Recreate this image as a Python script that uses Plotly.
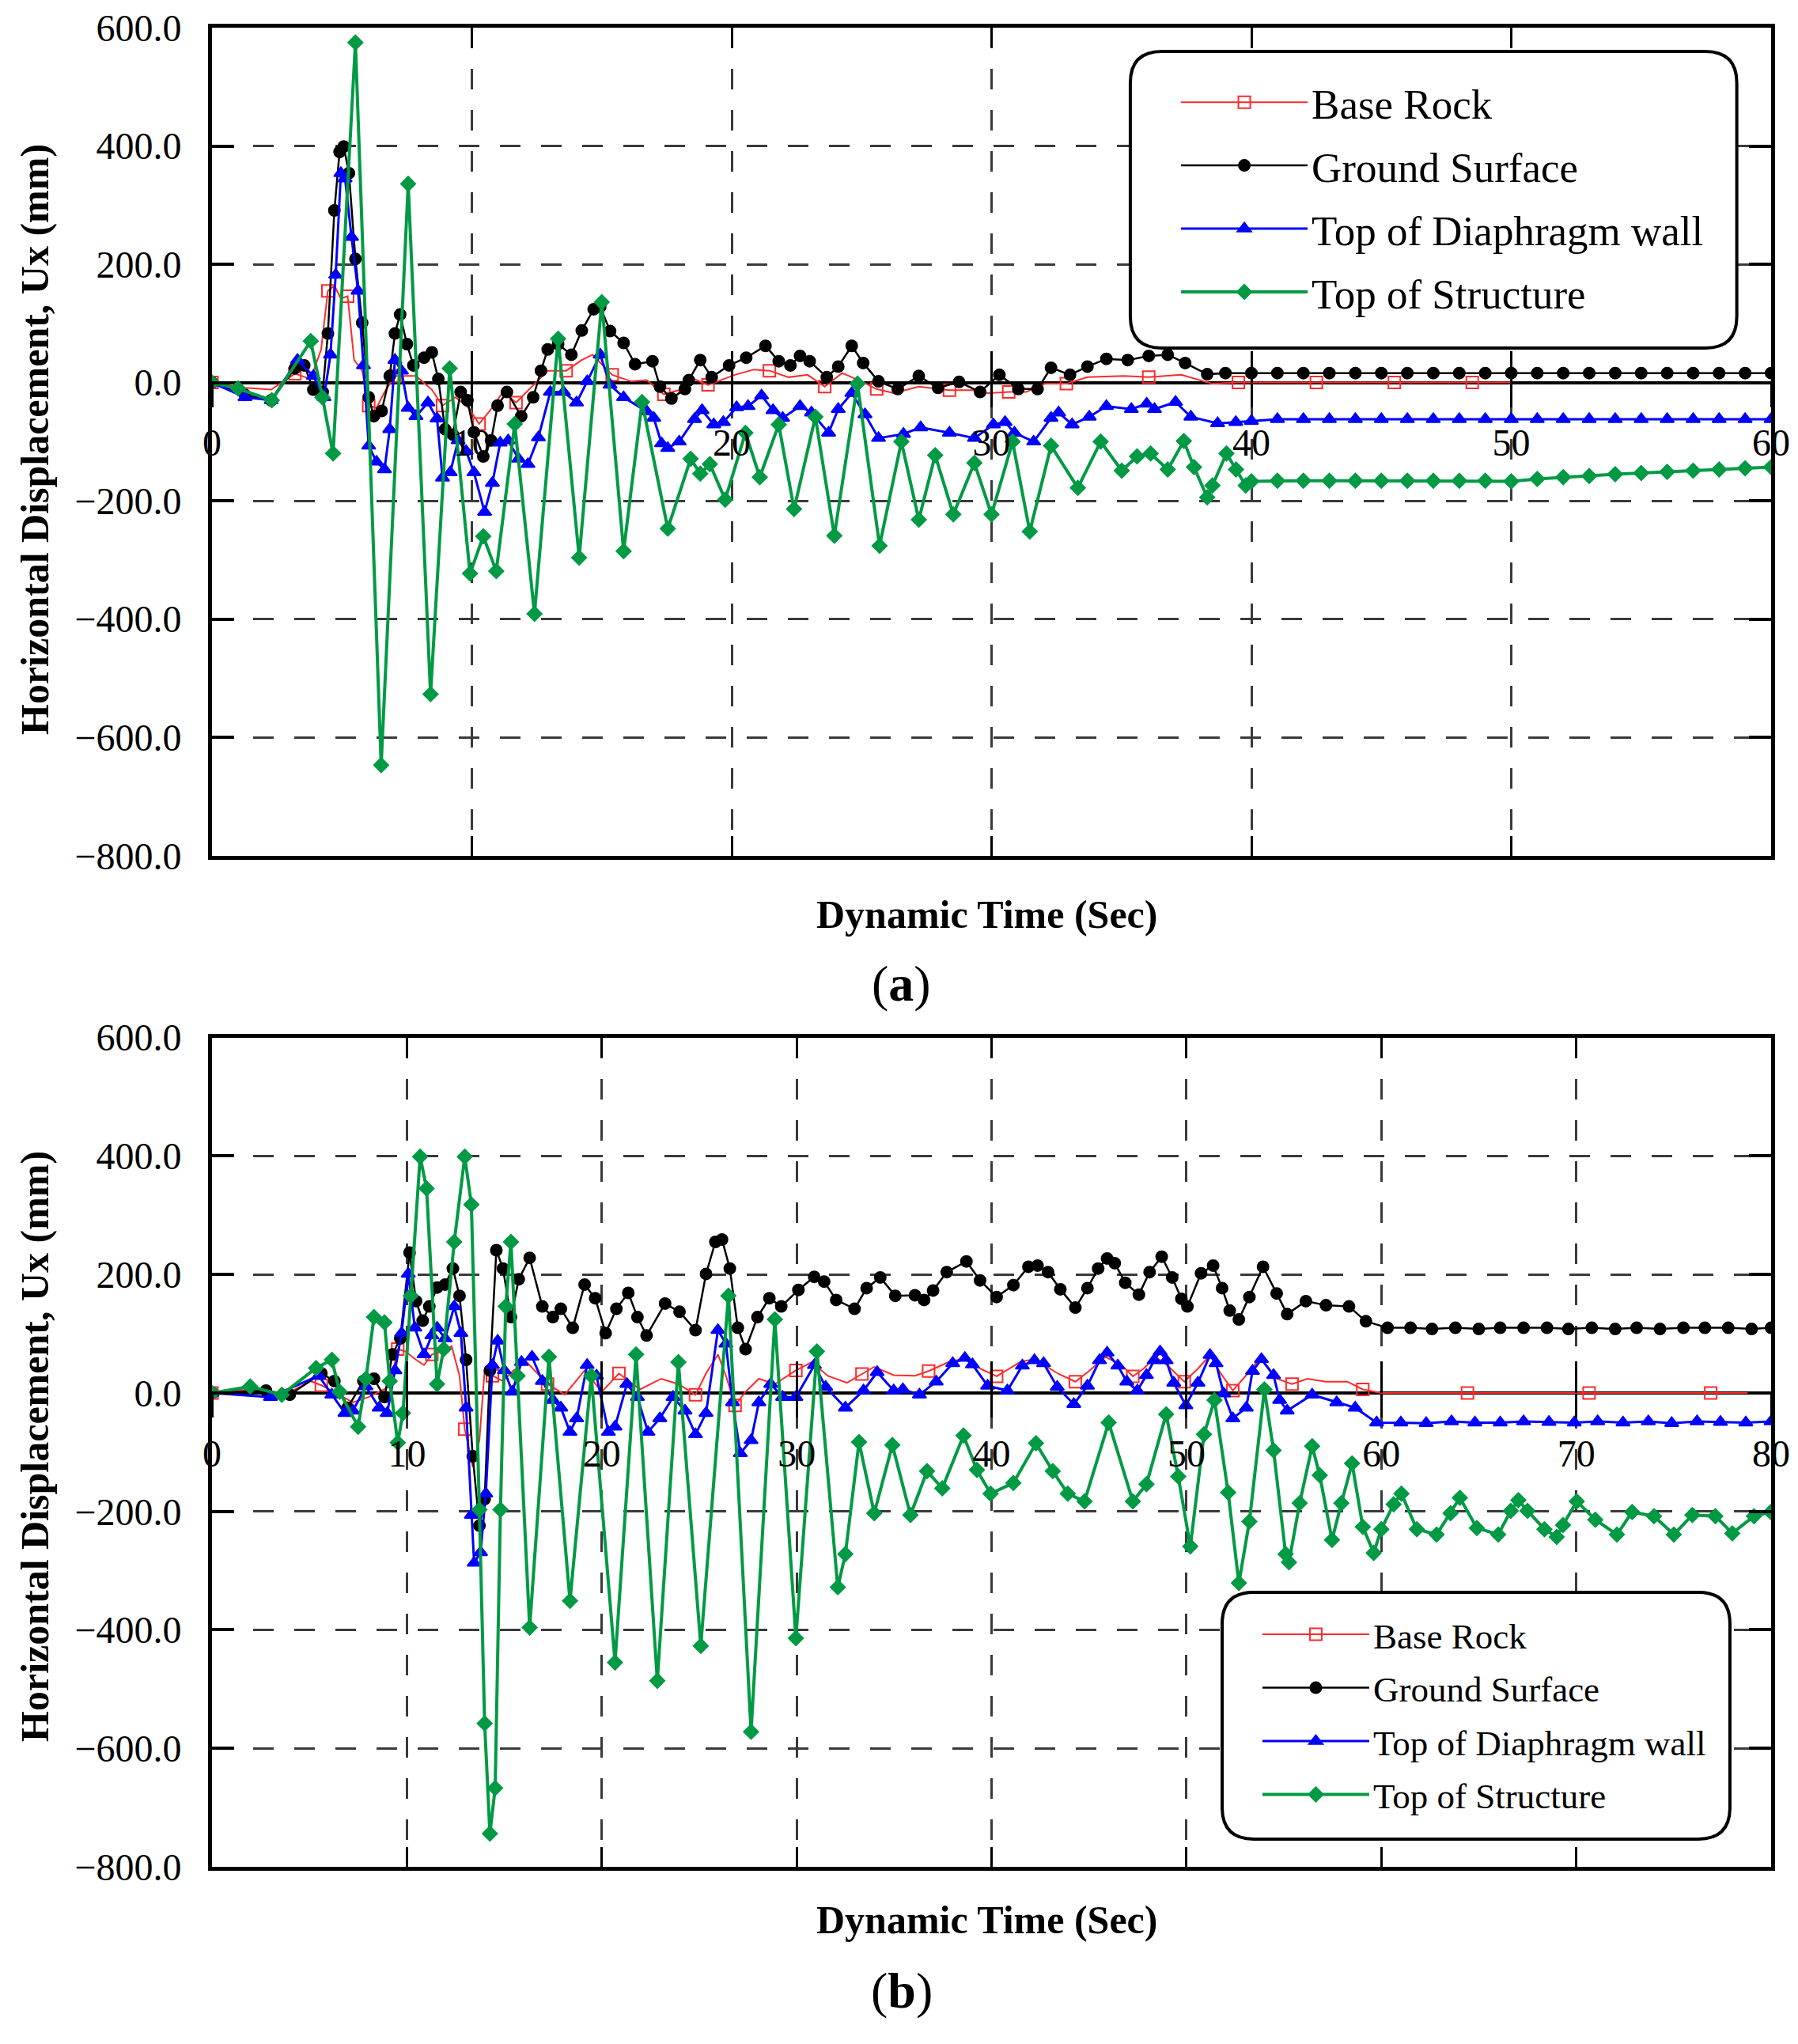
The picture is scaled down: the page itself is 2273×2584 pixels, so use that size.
import plotly.graph_objects as go

# ---------------- (a) 60 s record ----------------
a_rock_t = [0, 1.27, 2.28, 3.19, 3.8, 4.2, 4.46, 4.71, 4.96, 5.22, 5.47, 5.78, 6.03, 6.33, 6.64,
            7.04, 7.85, 8.46, 8.87, 9.37, 9.88, 10.28, 10.69, 11.2, 11.7, 12.41, 12.92, 13.63,
            14.23, 14.64, 15.4, 16.13, 16.73, 17.39, 18.13, 18.5, 19.09, 20.12, 20.86, 21.45,
            22.18, 22.92, 23.58, 24.25, 24.99, 25.58, 26.24, 27.2, 28.38, 29.26, 29.85, 30.66,
            31.33, 32.06, 32.88, 33.69, 35.09, 36.05, 37.3, 38.5, 39.5, 40.5, 41.5, 42.5, 43.5,
            44.5, 45.5, 46.5, 47.5, 48.5, 49.5, 50]
a_rock_v = [0, -9, -12, 15, 6, 56, 155, 164, 142, 146, 38, 20, -39, -43, -16,
            11, 11, -12, -39, -25, -43, -70, -48, -16, -34, -3, 20, 20,
            38, 47, 13, 2, 4, -20, -11, 7, -4, 13, 22, 20,
            9, 13, -7, 16, 2, -11, -18, -7, -13, -13, -18, -16,
            -16, -2, -2, 9, 11, 9, 13, -2, 0, 0, 0, 0, 0,
            0, 0, 0, 0, 0, 0, 0]

a_ground_t = [0, 1.27, 2.28, 3.19, 3.55, 3.9, 4.26, 4.46, 4.71, 4.91, 5.07, 5.27, 5.52, 5.78, 6.03,
              6.23, 6.53, 6.84, 7.04, 7.24, 7.5, 7.75, 8.16, 8.46, 8.71, 8.97, 9.27, 9.57, 9.83,
              10.08, 10.44, 10.74, 10.99, 11.35, 11.9, 12.36, 12.66, 12.92, 13.32, 13.83, 14.23,
              14.69, 14.94, 15.32, 15.84, 16.28, 16.95, 17.24, 17.68, 18.2, 18.35, 18.79, 19.23,
              19.9, 20.56, 21.3, 21.81, 22.26, 22.63, 23.0, 23.66, 24.1, 24.62, 25.06, 25.65,
              26.39, 27.2, 27.94, 28.75, 29.56, 30.3, 31.03, 31.77, 32.29, 33.02, 33.69, 34.42,
              35.24, 36.05, 36.78, 37.45, 38.3, 39, 40, 41, 42, 43, 44, 45, 46, 47, 48, 49, 50,
              51, 52, 53, 54, 55, 56, 57, 58, 59, 60]
a_ground_v = [0, -21, -30, 24, 29, -12, -16, 83, 291, 390, 399, 354, 209, 101, -25,
              -57, -48, 11, 83, 115, 65, 29, 42, 51, 6, -79, -88, -16, -30,
              -84, -125, -98, -39, -16, -57, -25, 20, 56, 65, 47, 88,
              124, 128, 87, 67, 31, 36, -7, -27, -11, 4, 38, 9,
              29, 42, 62, 36, 29, 45, 36, 9, 27, 62, 33, 2,
              -11, 11, -9, 1, -16, 13, -11, -11, 25, 13, 27, 40,
              38, 45, 47, 33, 14, 16, 16, 16, 16, 16, 16, 16, 16, 16, 16, 16, 16,
              16, 16, 16, 16, 16, 16, 16, 16, 16, 16]

a_wall_t = [0, 1.27, 2.28, 3.29, 3.9, 4.31, 4.56, 4.76, 4.96, 5.12, 5.37, 5.62, 5.83, 6.03, 6.33,
            6.64, 6.84, 7.04, 7.29, 7.55, 7.85, 8.31, 8.66, 8.87, 9.17, 9.47, 9.78, 10.08, 10.49,
            10.79, 11.09, 11.4, 11.8, 12.16, 12.56, 13.02, 13.53, 14.03, 14.44, 14.94, 15.32,
            15.84, 16.73, 17.0, 17.3, 17.54, 17.98, 18.57, 18.86, 19.31, 19.68, 20.19, 20.63,
            21.15, 21.59, 21.96, 22.63, 23.07, 23.73, 24.1, 24.62, 25.13, 25.65, 26.61, 27.27,
            28.38, 29.34, 30.07, 30.52, 30.88, 31.62, 32.29, 32.58, 33.1, 33.76, 34.42, 35.38,
            35.97, 36.27, 37.08, 37.67, 38.7, 39.4, 40, 41, 42, 43, 44, 45, 46, 47, 48, 49, 50,
            51, 52, 53, 54, 55, 56, 57, 58, 59, 60]
a_wall_v = [0, -25, -30, 38, 11, -25, 47, 182, 354, 345, 246, 155, 29, -107, -134,
            -147, -79, 38, 20, -43, -57, -34, -61, -161, -152, -98, -116, -152, -219,
            -170, -102, -98, -129, -138, -93, -16, -16, -34, 2, 47, -4,
            -25, -49, -60, -103, -111, -100, -62, -47, -71, -67, -42, -40,
            -22, -47, -60, -40, -51, -85, -45, -18, -54, -94, -87, -76,
            -85, -94, -71, -67, -85, -100, -60, -51, -71, -58, -40, -45,
            -36, -45, -33, -58, -69, -67, -65, -62, -62, -62, -62, -62, -62, -62, -62, -62, -62,
            -62, -62, -62, -62, -62, -62, -62, -62, -62, -62]

a_struct_t = [0, 1.0, 2.3, 3.8, 4.25, 4.66, 5.52, 6.51, 7.55, 8.41, 9.15, 9.93, 10.44, 10.94,
              11.65, 12.41, 13.32, 14.13, 15.0, 15.84, 16.55, 17.54, 18.42, 18.79, 19.16, 19.75,
              20.53, 21.08, 21.81, 22.4, 23.22, 23.95, 24.84, 25.69, 26.53, 27.2, 27.83, 28.53,
              29.34, 30.0, 30.81, 31.47, 32.29, 33.32, 34.2, 35.01, 35.6, 36.12, 36.78, 37.4,
              37.79, 38.3, 38.5, 39.04, 39.41, 39.78, 40, 41, 42, 43, 44, 45, 46, 47, 48, 49, 50,
              51, 52, 53, 54, 55, 56, 57, 58, 59, 60]
a_struct_v = [0, -10, -30, 70, -25, -120, 575, -647, 336, -527, 24, -323, -260, -319,
              -70, -391, 74, -296, 136, -285, -33, -247, -129, -154, -138, -198,
              -85, -160, -71, -214, -58, -259, -2, -276, -100, -232, -123, -223,
              -136, -223, -100, -252, -107, -178, -100, -149, -125, -120, -147, -99,
              -143, -194, -174, -120, -147, -174, -167, -166, -166, -166, -166, -166, -166, -166,
              -166, -166, -167, -163, -160, -158, -155, -153, -151, -149, -147, -145, -143]

# ---------------- (b) 80 s record ----------------
b_rock_t = [0, 1.96, 3.75, 5.07, 5.61, 7.23, 8.04, 9.12, 9.53, 9.93, 10.47, 10.88, 11.28, 11.82,
            12.3, 12.7, 12.97, 13.38, 13.72, 13.99, 14.39, 14.93, 15.47, 16.15, 17.22, 18.1,
            19.12, 20.0, 20.88, 21.96, 23.05, 23.93, 24.81, 25.35, 25.96, 26.37, 26.84, 27.38,
            28.06, 28.88, 29.96, 30.77, 31.59, 32.58, 33.35, 33.98, 34.98, 36.07, 36.77, 37.86,
            38.79, 39.41, 40.26, 41.51, 42.2, 43.45, 44.3, 45.0, 45.85, 46.71, 47.25, 47.8,
            48.42, 49.04, 49.89, 50.59, 51.21, 51.68, 52.38, 53.07, 53.77, 54.63, 55.42, 56.21,
            57.16, 58.26, 59.05, 60.0, 61.26, 62.8, 64.42, 66.0, 67.58, 69.1, 70.66, 72.2, 73.74,
            75.3, 76.9, 78.8]
b_rock_v = [0, 6, -3, 20, 13, -16, -7, 11, 74, 70, 56, 47, 65, 70,
            79, 29, -61, -125, -80, 38, 29, 20, 38, 52, 15, -3,
            38, 2, 33, 6, 24, 15, -3, 33, 65, 29, -21, 2,
            24, 15, 38, 52, 29, 17, 32, 44, 30, 29, 37, 53,
            59, 41, 28, 53, 57, 32, 19, 37, 61, 46, 28, 41,
            61, 46, 19, 41, 64, 37, 4, 30, 59, 24, 15, 24,
            19, 19, 6, 0, 0, 0, 0, 0, 0, 0, 0, 0, 0,
            0, 0, 0]

b_ground_t = [0, 2.77, 3.99, 5.61, 6.28, 6.96, 7.77, 8.31, 8.85, 9.26, 9.66, 10.14, 10.47, 10.81,
              11.15, 11.55, 11.96, 12.36, 12.7, 13.04, 13.38, 13.72, 13.99, 14.26, 14.59, 14.93,
              15.34, 15.74, 16.3, 16.95, 17.49, 17.9, 18.51, 19.12, 19.66, 20.2, 20.75, 21.36,
              21.83, 22.3, 23.25, 23.99, 24.81, 25.35, 25.83, 26.17, 26.57, 26.98, 27.38, 27.99,
              28.6, 29.21, 30.09, 30.9, 31.41, 32.03, 32.97, 33.59, 34.29, 35.06, 36.07, 36.54,
              37.0, 37.7, 38.71, 39.41, 40.26, 41.12, 41.89, 42.36, 42.9, 43.53, 44.3, 44.92,
              45.47, 45.93, 46.32, 46.86, 47.56, 48.11, 48.73, 49.27, 49.74, 50.05, 50.75, 51.37,
              51.83, 52.22, 52.69, 53.23, 53.93, 54.63, 55.17, 56.13, 57.16, 58.34, 59.21, 60.32,
              61.5, 62.6, 63.8, 65.0, 66.1, 67.3, 68.5, 69.6, 70.8, 72.0, 73.1, 74.3, 75.5, 76.6,
              77.8, 79.0, 80]
b_ground_v = [0, 4, -3, 33, 20, -25, 20, 24, -7, 65, 92, 237, 155, 122,
              146, 178, 183, 210, 164, 56, -107, -224, -179, 38, 241, 210,
              128, 192, 228, 146, 128, 142, 110, 183, 160, 101, 142, 169,
              128, 97, 151, 137, 106, 201, 255, 259, 210, 110, 74, 128,
              160, 146, 174, 196, 188, 157, 142, 177, 195, 164, 165, 157,
              173, 204, 222, 190, 162, 182, 213, 215, 204, 175, 144, 177,
              210, 227, 219, 186, 166, 204, 230, 195, 159, 146, 202, 215,
              177, 139, 124, 162, 213, 168, 133, 155, 148, 146, 121, 110,
              110, 108, 110, 108, 110, 110, 110, 108, 110, 108, 110, 108, 110, 110,
              110, 108, 110]

b_wall_t = [0, 3.0, 5.47, 6.15, 6.82, 7.23, 7.9, 8.58, 8.99, 9.39, 9.73, 10.07, 10.41, 10.88,
            11.28, 11.55, 11.96, 12.43, 12.77, 13.04, 13.31, 13.45, 13.78, 14.05, 14.39, 14.66,
            15.0, 15.41, 15.88, 16.42, 16.95, 17.49, 17.9, 18.37, 18.71, 19.25, 19.73, 20.34,
            20.68, 21.29, 21.83, 22.37, 22.98, 23.66, 24.27, 24.81, 25.35, 25.96, 26.37, 26.71,
            27.11, 27.66, 28.06, 28.67, 29.28, 29.96, 30.91, 31.49, 32.5, 33.43, 34.13, 34.98,
            35.45, 36.3, 37.16, 38.01, 38.63, 39.02, 39.8, 40.81, 41.58, 42.2, 42.67, 43.37,
            44.22, 44.92, 45.54, 45.93, 46.48, 46.94, 47.48, 47.95, 48.34, 48.65, 48.96, 49.35,
            49.97, 50.59, 51.21, 51.52, 51.91, 52.38, 53.07, 53.39, 53.85, 54.47, 54.78, 55.17,
            56.45, 57.71, 58.66, 59.76, 61.0, 62.3, 63.6, 64.8, 66.1, 67.3, 68.6, 69.9, 71.1,
            72.4, 73.7, 74.9, 76.2, 77.4, 78.7, 80]
b_wall_v = [0, -7, 29, -3, -34, -30, 11, -25, -34, 38, 101, 201, 110, 65,
            97, 110, 92, 146, 101, -25, -206, -287, -269, -170, 47, 88,
            38, 2, 52, 61, 20, -12, -25, -66, -43, 47, 29, -66,
            -57, 15, -7, -66, -43, -7, -30, -70, -34, 106, 83, -16,
            -102, -80, -16, 15, -7, -7, 47, 10, -25, 4, 35, 4,
            6, -3, 19, 50, 59, 48, 12, 4, 46, 55, 50, 10,
            -19, 12, 55, 68, 46, 19, 4, 30, 55, 70, 55, 17,
            -21, 17, 64, 50, -1, -43, -25, 37, 57, 30, -12, -30,
            -3, -16, -25, -50, -50, -51, -48, -50, -50, -48, -49, -50, -48,
            -50, -48, -51, -48, -49, -50, -48]

b_struct_t = [0, 1.96, 3.58, 5.34, 6.15, 6.55, 7.5, 7.9, 8.31, 8.85, 9.12, 9.53, 9.8, 10.2,
              10.68, 11.01, 11.55, 11.89, 12.43, 12.97, 13.31, 13.72, 13.99, 14.26, 14.53, 14.8,
              15.07, 15.34, 15.68, 16.3, 17.29, 18.37, 19.46, 20.68, 21.76, 22.85, 23.93, 25.08,
              26.5, 27.66, 28.88, 29.96, 31.04, 32.11, 32.5, 33.2, 33.98, 34.91, 35.84, 36.69,
              37.47, 38.56, 39.25, 39.95, 41.12, 42.28, 43.14, 43.91, 44.77, 46.01, 47.25, 47.95,
              48.96, 49.58, 50.2, 50.9, 51.44, 52.14, 52.69, 53.23, 54.0, 54.47, 55.09, 55.26,
              55.81, 56.45, 56.84, 57.47, 57.95, 58.5, 59.05, 59.61, 60.0, 60.63, 61.03, 61.82,
              62.84, 63.55, 64.03, 64.9, 66.0, 66.64, 67.03, 67.5, 68.37, 69.0, 69.32, 70.03,
              70.98, 72.09, 72.87, 73.99, 75.01, 75.96, 77.14, 78.01, 79.12, 79.98]
b_struct_v = [0, 11, -3, 42, 56, 2, -57, 24, 128, 119, 20, -84, -34, 164,
              399, 345, 15, 74, 255, 399, 318, -197, -558, -744, -667, -197,
              146, 255, 29, -396, 61, -351, 29, -455, 65, -486, 52, -427,
              164, -572, 124, -414, 70, -328, -272, -83, -203, -88, -206, -132,
              -161, -72, -130, -170, -152, -85, -132, -170, -183, -50, -183, -154,
              -36, -141, -259, -70, -12, -168, -321, -217, 6, -97, -272, -286,
              -186, -90, -139, -248, -186, -119, -226, -270, -230, -188, -170, -230,
              -239, -203, -177, -228, -239, -199, -181, -199, -230, -243, -223, -183,
              -214, -239, -201, -208, -239, -206, -208, -237, -208, -201]

SERIES_NAMES = ["Base Rock", "Ground Surface", "Top of Diaphragm wall", "Top of Structure"]
Y_TICKS = [-800, -600, -400, -200, 0, 200, 400, 600]

FONT = "Liberation Serif"
FIG_W, FIG_H = 2257, 2568
Y_RANGE = [-800, 600]
DOM_A = [0.5498, 1.0]
DOM_B = [0.0, 0.4509]

STYLE = {
    "Base Rock": dict(color="#ff2a2a", symbol="square-open", size=15, width=2, maxd=24),
    "Ground Surface": dict(color="black", symbol="circle", size=14, width=2.5, maxd=0),
    "Top of Diaphragm wall": dict(color="#0000ff", symbol="triangle-up", size=15, width=3, maxd=0),
    "Top of Structure": dict(color="#009a44", symbol="diamond", size=14, width=4, maxd=0),
}


def add_series(fig, t, v, name, xa, ya, legend, maxd=None):
    st = STYLE[name]
    fig.add_trace(go.Scatter(
        x=t, y=v, name=name, mode="lines+markers", xaxis=xa, yaxis=ya, legend=legend,
        legendgroup=legend + name,
        line=dict(color=st["color"], width=st["width"]),
        marker=dict(symbol=st["symbol"], size=st["size"], color=st["color"],
                    line=dict(color=st["color"], width=2),
                    maxdisplayed=maxd if maxd is not None else st["maxd"]),
    ))


fig = go.Figure()
add_series(fig, a_rock_t, a_rock_v, SERIES_NAMES[0], "x", "y", "legend")
add_series(fig, a_ground_t, a_ground_v, SERIES_NAMES[1], "x", "y", "legend")
add_series(fig, a_wall_t, a_wall_v, SERIES_NAMES[2], "x", "y", "legend")
add_series(fig, a_struct_t, a_struct_v, SERIES_NAMES[3], "x", "y", "legend")
add_series(fig, b_rock_t, b_rock_v, SERIES_NAMES[0], "x2", "y2", "legend2", maxd=26)
add_series(fig, b_ground_t, b_ground_v, SERIES_NAMES[1], "x2", "y2", "legend2")
add_series(fig, b_wall_t, b_wall_v, SERIES_NAMES[2], "x2", "y2", "legend2")
add_series(fig, b_struct_t, b_struct_v, SERIES_NAMES[3], "x2", "y2", "legend2")


def zero_pos(dom):
    return dom[0] + (0 - Y_RANGE[0]) / (Y_RANGE[1] - Y_RANGE[0]) * (dom[1] - dom[0])


grid = dict(showgrid=True, gridcolor="#3a3a3a", gridwidth=3, griddash="26px,26px")
frame_x = dict(showline=True, linecolor="black", linewidth=5, mirror="ticks",
               ticks="inside", ticklen=25, tickwidth=2.5, tickcolor="black",
               showticklabels=False, zeroline=False, dtick=10, tick0=0,
               automargin=False, **grid)
frame_y = dict(showline=True, linecolor="black", linewidth=5, mirror="ticks",
               ticks="inside", ticklen=28, tickwidth=4, tickcolor="black",
               zeroline=True, zerolinecolor="black", zerolinewidth=4,
               range=Y_RANGE, tickvals=Y_TICKS, tickformat=".1f",
               tickfont=dict(family=FONT, size=48, color="black"),
               ticklabelstandoff=24, automargin=False, **grid)
zero_up = dict(anchor="free", showgrid=False, zeroline=False, showline=False,
               ticks="inside", ticklen=40, tickwidth=3, tickcolor="black",
               showticklabels=False, dtick=10, tick0=0, automargin=False)
zero_down = dict(anchor="free", showgrid=False, zeroline=False, showline=False,
                 ticks="outside", ticklen=30, tickwidth=3, tickcolor="black",
                 showticklabels=True, dtick=10, tick0=0,
                 tickfont=dict(family=FONT, size=48, color="black"),
                 ticklabelstandoff=4, automargin=False)

fig.update_layout(
    width=FIG_W, height=FIG_H,
    margin=dict(l=260, r=26, t=27, b=216, autoexpand=False),
    paper_bgcolor="white", plot_bgcolor="white",
    font=dict(family=FONT, color="black"),
    xaxis=dict(domain=[0, 1], anchor="y", range=[0, 60], **frame_x),
    yaxis=dict(domain=DOM_A, anchor="x", **frame_y),
    xaxis2=dict(domain=[0, 1], anchor="y2", range=[0, 80], **frame_x),
    yaxis2=dict(domain=DOM_B, anchor="x2", **frame_y),
    xaxis3=dict(overlaying="x", position=zero_pos(DOM_A), range=[0, 60], **zero_up),
    xaxis4=dict(overlaying="x", position=zero_pos(DOM_A), range=[0, 60], **zero_down),
    xaxis5=dict(overlaying="x2", position=zero_pos(DOM_B), range=[0, 80], **zero_up),
    xaxis6=dict(overlaying="x2", position=zero_pos(DOM_B), range=[0, 80], **zero_down),
    legend=dict(x=0.619, y=0.9771, xanchor="left", yanchor="top", bgcolor="rgba(0,0,0,0)",
                borderwidth=0, font=dict(family=FONT, size=53, color="black"),
                itemwidth=160, tracegroupgap=8),
    legend2=dict(x=0.6712, y=0.1418, xanchor="left", yanchor="top", bgcolor="rgba(0,0,0,0)",
                 borderwidth=0, font=dict(family=FONT, size=45, color="black"),
                 itemwidth=135, tracegroupgap=6),
    showlegend=True,
)

# empty traces so the overlay axes are drawn
for xa, ya in [("x3", "y"), ("x4", "y"), ("x5", "y2"), ("x6", "y2")]:
    fig.add_trace(go.Scatter(x=[None], y=[None], xaxis=xa, yaxis=ya, showlegend=False,
                             hoverinfo="skip"))


def rounded_box(x0, y0, x1, y1, rx, ry):
    return (f"M {x0 + rx},{y0} L {x1 - rx},{y0} Q {x1},{y0} {x1},{y0 + ry} "
            f"L {x1},{y1 - ry} Q {x1},{y1} {x1 - rx},{y1} L {x0 + rx},{y1} "
            f"Q {x0},{y1} {x0},{y1 - ry} L {x0},{y0 + ry} Q {x0},{y0} {x0 + rx},{y0} Z")


rx, ry = 40 / 1971, 40 / 2325
fig.add_shape(type="path", xref="paper", yref="paper",
              path=rounded_box(0.589, 0.8258, 0.978, 0.9871, rx, ry),
              line=dict(color="black", width=4), fillcolor="white", layer="above")
fig.add_shape(type="path", xref="paper", yref="paper",
              path=rounded_box(0.6479, 0.0151, 0.9736, 0.1492, rx, ry),
              line=dict(color="black", width=4), fillcolor="white", layer="above")

title_font = dict(family=FONT, size=50, color="black")
fig.add_annotation(text="<b>Dynamic Time (Sec)</b>", xref="paper", yref="paper",
                   x=0.497, y=0.5178, showarrow=False, font=title_font,
                   xanchor="center", yanchor="middle")
fig.add_annotation(text="<b>Dynamic Time (Sec)</b>", xref="paper", yref="paper",
                   x=0.497, y=-0.0288, showarrow=False, font=title_font,
                   xanchor="center", yanchor="middle")
for yc in [0.7763, 0.2288]:
    fig.add_annotation(text="<b>Horizontal Displacement, Ux (mm)</b>", xref="paper",
                       yref="paper", x=-0.1137, y=yc, showarrow=False, textangle=-90,
                       font=title_font, xanchor="center", yanchor="middle")
fig.add_annotation(text="(<b>a</b>)", xref="paper", yref="paper", x=0.4424, y=0.4804,
                   showarrow=False, font=dict(family=FONT, size=64, color="black"),
                   xanchor="center", yanchor="middle")
fig.add_annotation(text="(<b>b</b>)", xref="paper", yref="paper", x=0.4424, y=-0.0671,
                   showarrow=False, font=dict(family=FONT, size=64, color="black"),
                   xanchor="center", yanchor="middle")

fig.write_html("out.html")
